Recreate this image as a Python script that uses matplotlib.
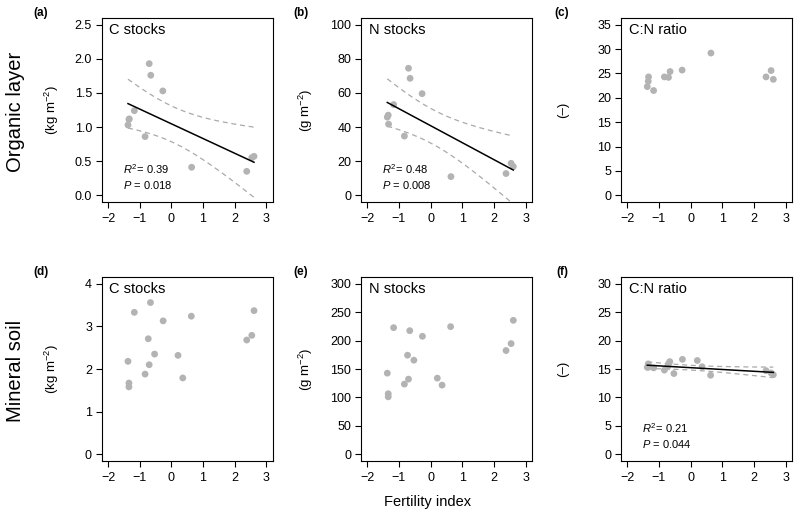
import matplotlib
matplotlib.use("Agg")
import matplotlib.pyplot as plt
import numpy as np

plt.rcParams['font.family'] = ['Liberation Sans', 'DejaVu Sans']
plt.rcParams['mathtext.fontset'] = 'custom'
plt.rcParams['mathtext.rm'] = 'Liberation Sans'
plt.rcParams['mathtext.it'] = 'Liberation Sans:italic'

# fertility index of the sites (organic layer: 12 sites, mineral soil: 16 sites)
fert_org = np.array([-1.37, -1.34, -1.33, -1.17, -0.83, -0.70, -0.65, -0.27, 0.64, 2.38, 2.54, 2.61])
fert_min = np.array([-1.37, -1.34, -1.34, -1.17, -0.83, -0.73, -0.70, -0.66, -0.53, -0.26,
                     0.21, 0.36, 0.63, 2.38, 2.54, 2.61])

# organic layer
c_org = np.array([1.03, 1.11, 1.12, 1.24, 0.86, 1.93, 1.76, 1.53, 0.41, 0.35, 0.55, 0.57])
n_org = np.array([45.8, 47.0, 41.7, 53.2, 34.7, 74.5, 68.6, 59.6, 10.9, 12.7, 18.7, 16.8])
cn_org = np.array([22.3, 23.4, 24.3, 21.5, 24.3, 24.2, 25.4, 25.7, 29.2, 24.3, 25.6, 23.8])

# mineral soil
c_min = np.array([2.18, 1.67, 1.58, 3.33, 1.88, 2.71, 2.10, 3.56, 2.35, 3.13,
                  2.32, 1.79, 3.24, 2.68, 2.79, 3.37])
n_min = np.array([142.7, 106.4, 101.0, 222.8, 123.4, 174.3, 132.2, 217.5, 165.5, 207.6,
                  133.9, 121.6, 224.6, 182.5, 194.7, 235.7])
cn_min = np.array([15.3, 15.9, 15.3, 15.2, 14.8, 15.4, 15.9, 16.3, 14.2, 16.7,
                   16.5, 15.4, 13.9, 14.7, 14.3, 14.0])

titles = ["C stocks", "N stocks", "C:N ratio"]
ylabels = [r"(kg m$^{-2}$)", r"(g m$^{-2}$)", "(–)"]
panel_tags = ["(a)", "(b)", "(c)", "(d)", "(e)", "(f)"]
row_names = ["Organic layer", "Mineral soil"]
yticks_all = [np.arange(0, 2.6, 0.5), np.arange(0, 101, 20), np.arange(0, 36, 5),
              np.arange(0, 5, 1), np.arange(0, 301, 50), np.arange(0, 31, 5)]
ytick_fmt = ["%.1f", "%d", "%d", "%d", "%d", "%d"]
stats = {0: ("0.39", "0.018"), 1: ("0.48", "0.008"), 5: ("0.21", "0.044")}
t_crit = {12: 2.228, 16: 2.145}  # two sided 95% t quantiles, df = n - 2

data = [(fert_org, c_org), (fert_org, n_org), (fert_org, cn_org),
        (fert_min, c_min), (fert_min, n_min), (fert_min, cn_min)]

W, H = 800, 516
fig = plt.figure(figsize=(8, 5.16), dpi=100)

col_left = [101.7, 361, 621]
row_top = [18, 277]
bw, bh = 171, 184

def fx(px):
    return px / W

def fy(py):
    return 1 - py / H

for k in range(6):
    r, c = divmod(k, 3)
    ax = fig.add_axes([fx(col_left[c]), fy(row_top[r] + bh), bw / W, bh / H])
    x, y = data[k]
    ax.scatter(x, y, s=24, color='#b3b3b3', edgecolors='none', zorder=3)

    if k in stats:
        n = len(x)
        b1, b0 = np.polyfit(x, y, 1)
        xs = np.linspace(x.min(), x.max(), 100)
        yhat = b0 + b1 * xs
        resid = y - (b0 + b1 * x)
        s = np.sqrt(np.sum(resid ** 2) / (n - 2))
        sxx = np.sum((x - x.mean()) ** 2)
        se = s * np.sqrt(1 / n + (xs - x.mean()) ** 2 / sxx)
        ax.plot(xs, yhat, color='black', lw=1.1, zorder=4)
        ax.plot(xs, yhat + t_crit[n] * se, color='#aaaaaa', lw=0.9, ls=(0, (4, 3)), zorder=2)
        ax.plot(xs, yhat - t_crit[n] * se, color='#aaaaaa', lw=0.9, ls=(0, (4, 3)), zorder=2)
        r2, p = stats[k]
        ax.text(0.125, 0.18, r"$R^2$= " + r2, transform=ax.transAxes,
                fontsize=8, va='center', ha='left')
        ax.text(0.125, 0.095, r"$P$ = " + p, transform=ax.transAxes,
                fontsize=8, va='center', ha='left')

    yt = yticks_all[k]
    span = yt[-1] - yt[0]
    ax.set_ylim(yt[0] - 0.04 * span, yt[-1] + 0.04 * span)
    ax.set_yticks(yt)
    ax.set_yticklabels([ytick_fmt[k] % v for v in yt])
    ax.set_xlim(-2.2, 3.2)
    ax.set_xticks([-2, -1, 0, 1, 2, 3])
    ax.tick_params(direction='out', length=4, width=0.8, labelsize=9, colors='black')
    ax.tick_params(axis='x', pad=4)
    ax.tick_params(axis='y', pad=3)
    for sp in ax.spines.values():
        sp.set_linewidth(0.8)
    ax.text(0.045, 0.975, titles[c], transform=ax.transAxes, fontsize=10.5,
            va='top', ha='left')

    # y label
    fig.text(fx(col_left[c] - [50, 55, 58][c]), fy(row_top[r] + bh / 2), ylabels[c],
             rotation=90, fontsize=9.5, ha='center', va='center')
    # panel tag
    fig.text(fx([41, 301, 562][c]), fy([13, 272][r]), panel_tags[k],
             fontsize=8.5, fontweight='bold', ha='center', va='center')

for r in range(2):
    fig.text(fx(16), fy(row_top[r] + bh / 2 + 2), row_names[r], rotation=90,
             fontsize=14.5, ha='center', va='center')

fig.text(fx(428), fy(502), "Fertility index", fontsize=10.5, ha='center', va='center')

fig.savefig("out.png", dpi=100)
